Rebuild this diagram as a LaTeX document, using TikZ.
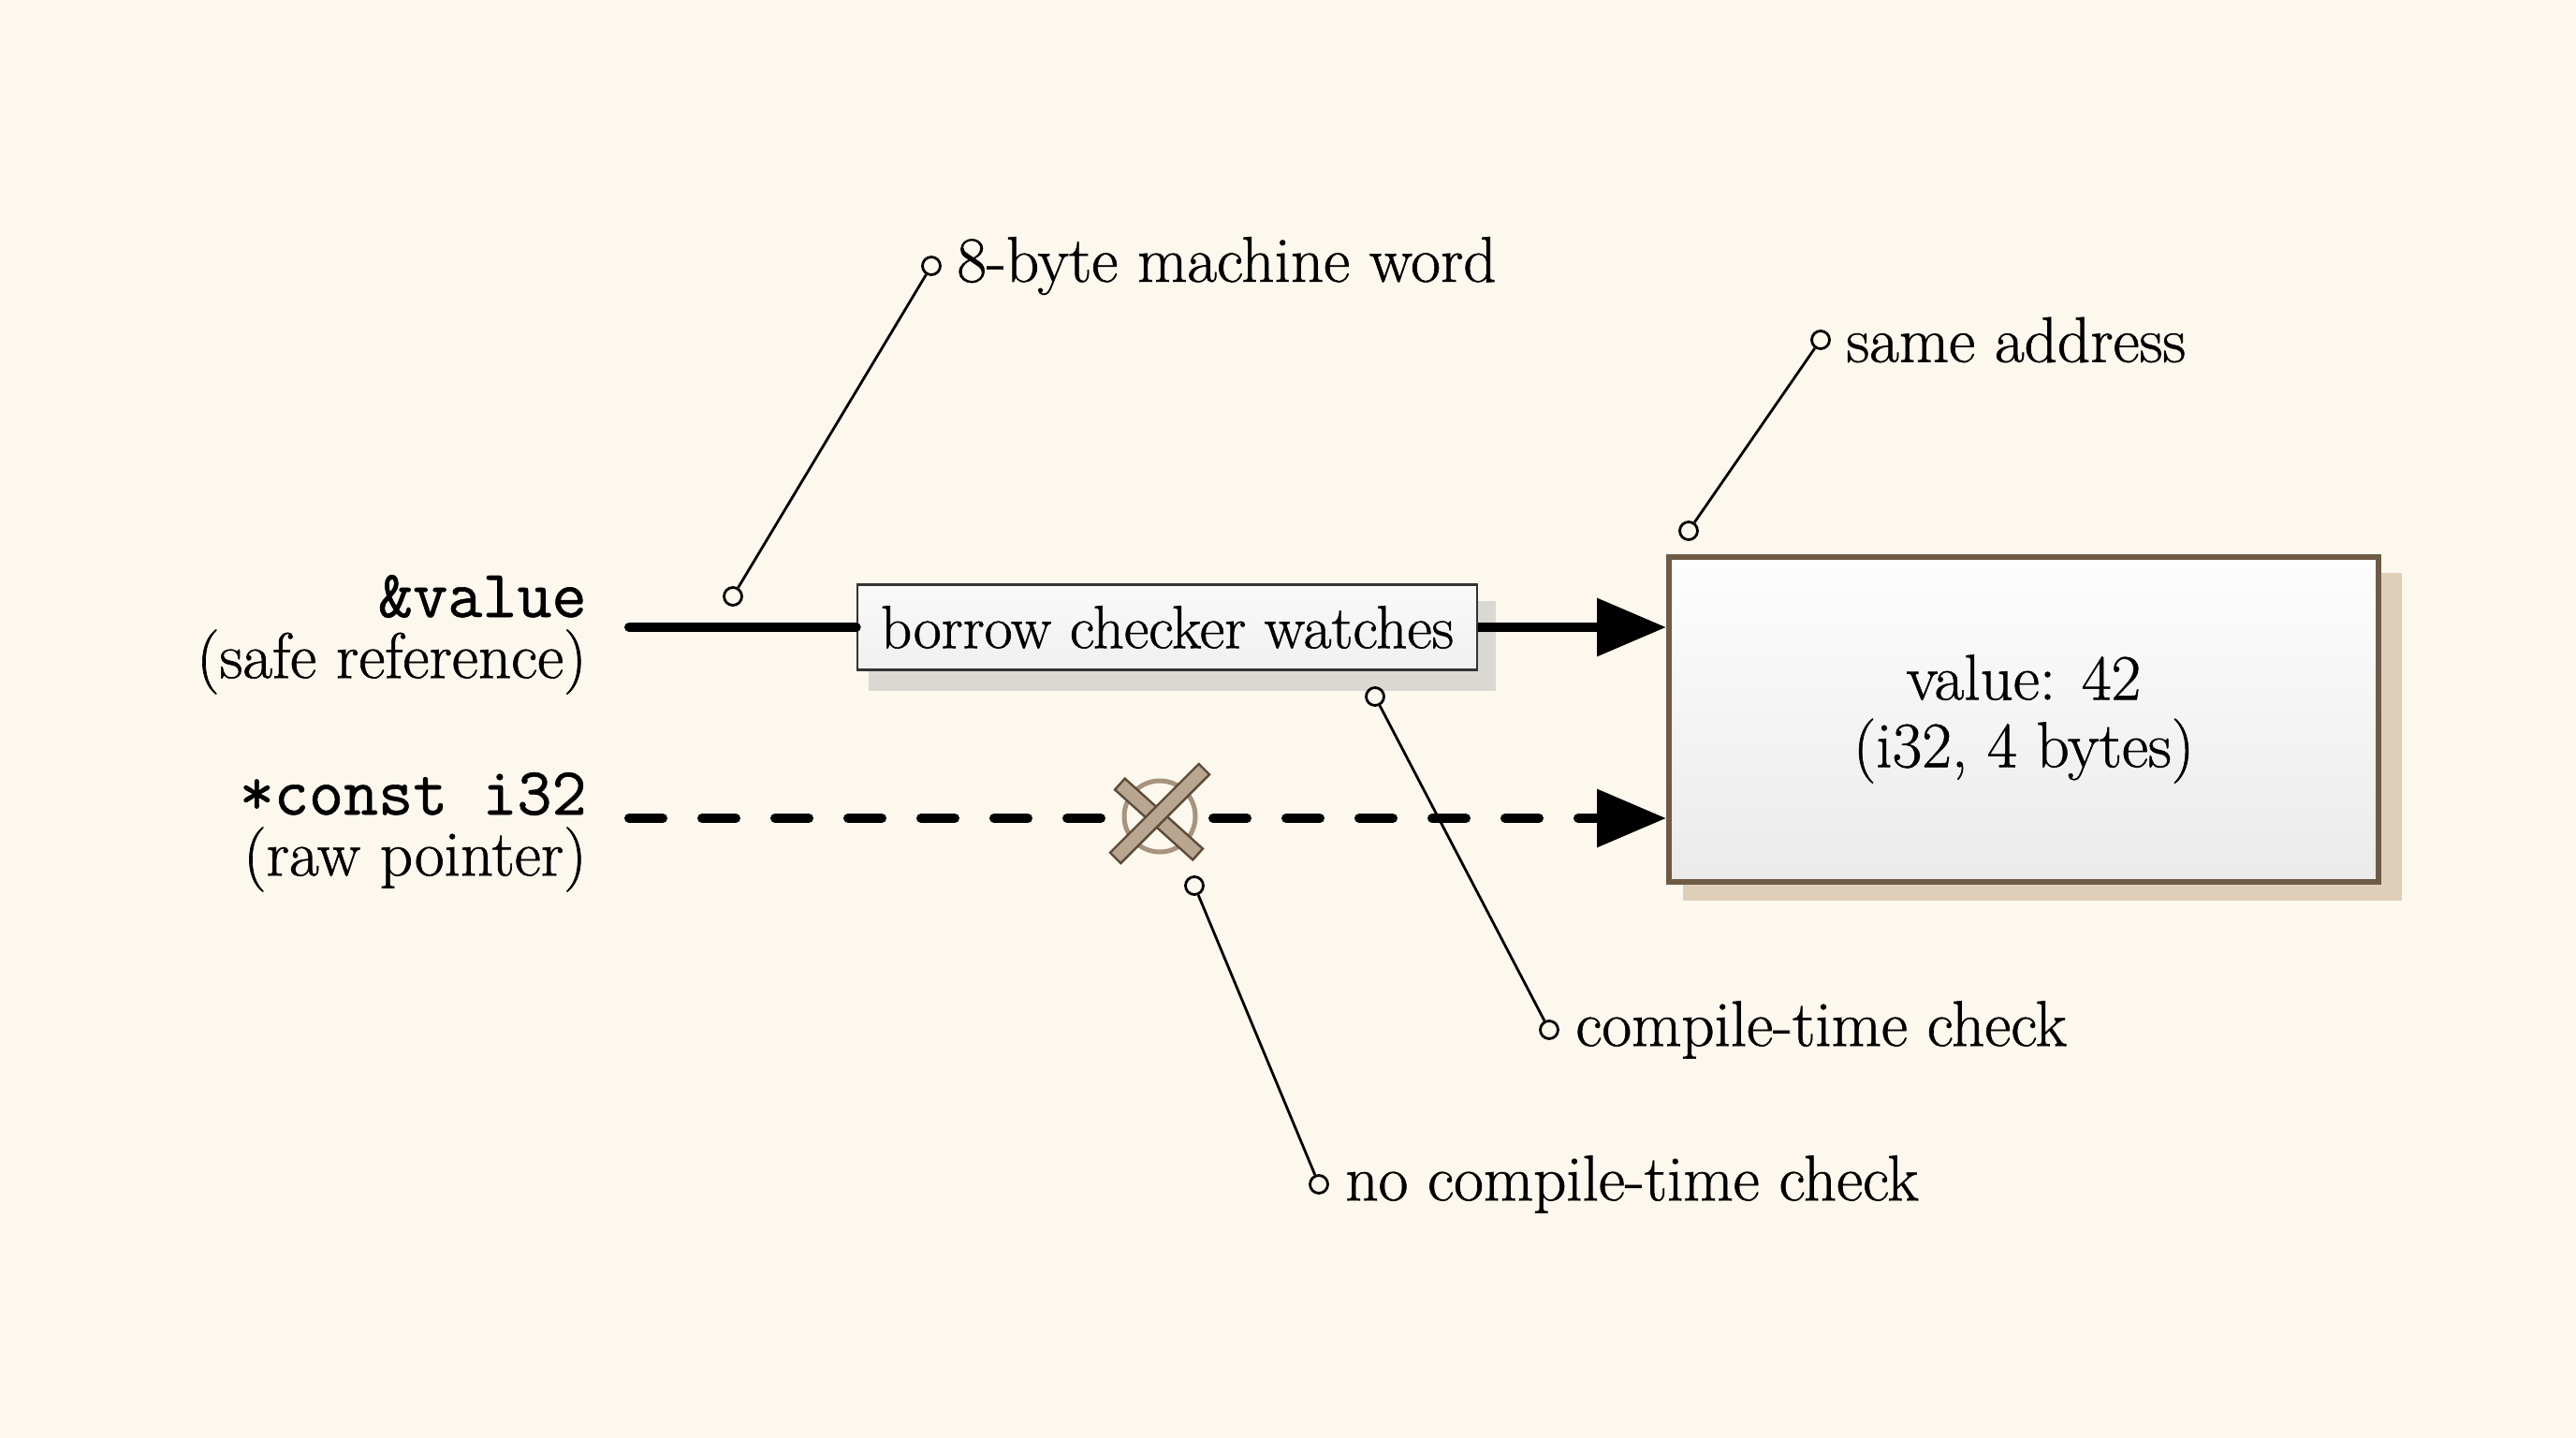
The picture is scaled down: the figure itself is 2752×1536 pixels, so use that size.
\documentclass[tikz,border=0pt]{standalone}
\usepackage{fontspec}
\newfontfamily\lblfont{Latin Modern Roman}[FakeBold=0.9]
\newfontfamily\codefont{Latin Modern Mono}[FakeBold=0.9]
\usetikzlibrary{arrows.meta}
\definecolor{bg}{HTML}{FCF8EE}
\definecolor{boxbrown}{HTML}{6E5A45}
\definecolor{shadowbeige}{HTML}{DCCBB3}
\definecolor{shadowgray}{HTML}{D2D0CC}
\definecolor{xfill}{HTML}{B9A690}
\definecolor{xedge}{HTML}{5E4A38}
\definecolor{xring}{HTML}{A8937E}
\begin{document}
\begin{tikzpicture}[x=0.5pt,y=-0.5pt,
  leader/.style={line width=1.4pt, black},
  dot/.style={circle, draw=black, line width=1.4pt, fill=bg, minimum size=9.5pt, inner sep=0pt},
  lbl/.style={font=\fontsize{34.5}{40}\lblfont, inner sep=0pt, anchor=west},
  codelbl/.style={font=\fontsize{36}{40}\codefont, inner sep=0pt, anchor=east},
  sublbl/.style={font=\fontsize{34.5}{40}\lblfont, inner sep=0pt, anchor=east},
  wire/.style={line width=5pt, black},
  bigtip/.style={-{Triangle[length=37pt,width=30pt]}},
  xbar/.style={rectangle, fill=xfill, draw=xedge, line width=1.2pt, minimum height=8pt, inner sep=0pt}
]
\fill[bg] (0,0) rectangle (2752,1536);
\useasboundingbox (0,0) rectangle (2752,1536);

% shadows
\fill[shadowgray, opacity=0.8] (928,642) rectangle (1598,738);
\fill[shadowbeige, opacity=0.9] (1798,612) rectangle (2566,962);

% value box
\node[draw=boxbrown, line width=3pt, top color=white!80!gray!6, bottom color=gray!16,
      minimum width=379pt, minimum height=173.5pt, inner sep=0pt,
      align=center, font=\fontsize{34.5}{36}\lblfont] (value) at (2162,768)
      {value: 42\\(i32, 4 bytes)};

% solid reference arrow
\coordinate (s0) at (672,670);
\coordinate (d0) at (672,874);
\node[draw=black!80, line width=1.3pt, top color=gray!4, bottom color=gray!12, minimum width=331pt, minimum height=45.5pt,
      inner sep=0pt, font=\fontsize{32.5}{36}\lblfont] (borrow) at (1247,670) {borrow checker watches};
\draw[wire, line cap=round] (s0) -- (borrow.west);
\draw[wire, bigtip] (borrow.east) -- (borrow.east -| value.west);

% dashed raw-pointer arrow
\draw[wire, line cap=round, dash pattern=on 18pt off 21pt, bigtip] (d0) -- (d0 -| value.west);

% X mark
\node[circle, draw=xring, line width=2.5pt, fill=bg, minimum size=38pt, inner sep=0pt] (xmark) at (1239,872) {};
\node[xbar, minimum width=56pt, rotate=-42] (xbarA) at (1238,875) {};
\node[xbar, minimum width=67pt, rotate=45] (xbarB) at (1239,869) {};

% left labels
\node[codelbl] (refcode) at (627,637) {\&value};
\node[sublbl] (refsub) at (627,707) {(safe reference)};
\node[codelbl] (rawcode) at (627,848) {*const i32};
\node[sublbl] (rawsub) at (627,918) {(raw pointer)};

% callouts
\node[dot] (c8a) at (995,284) {};
\node[dot] (c8b) at (783,637) {};
\draw[leader] (c8a) -- (c8b);
\node[lbl] (word) at (1022,284) {8-byte machine word};

\node[dot] (csa) at (1945,363) {};
\node[dot] (csb) at (1804,567) {};
\draw[leader] (csa) -- (csb);
\node[lbl] (same) at (1972,363) {same address};

\node[dot] (cca) at (1469,744) {};
\node[dot] (ccb) at (1655,1100) {};
\draw[leader] (cca) -- (ccb);
\node[lbl] (ct) at (1683,1100) {compile-time check};

\node[dot] (cna) at (1276,946) {};
\node[dot] (cnb) at (1409,1265) {};
\draw[leader] (cna) -- (cnb);
\node[lbl] (nct) at (1437,1265) {no compile-time check};
\end{tikzpicture}
\end{document}
